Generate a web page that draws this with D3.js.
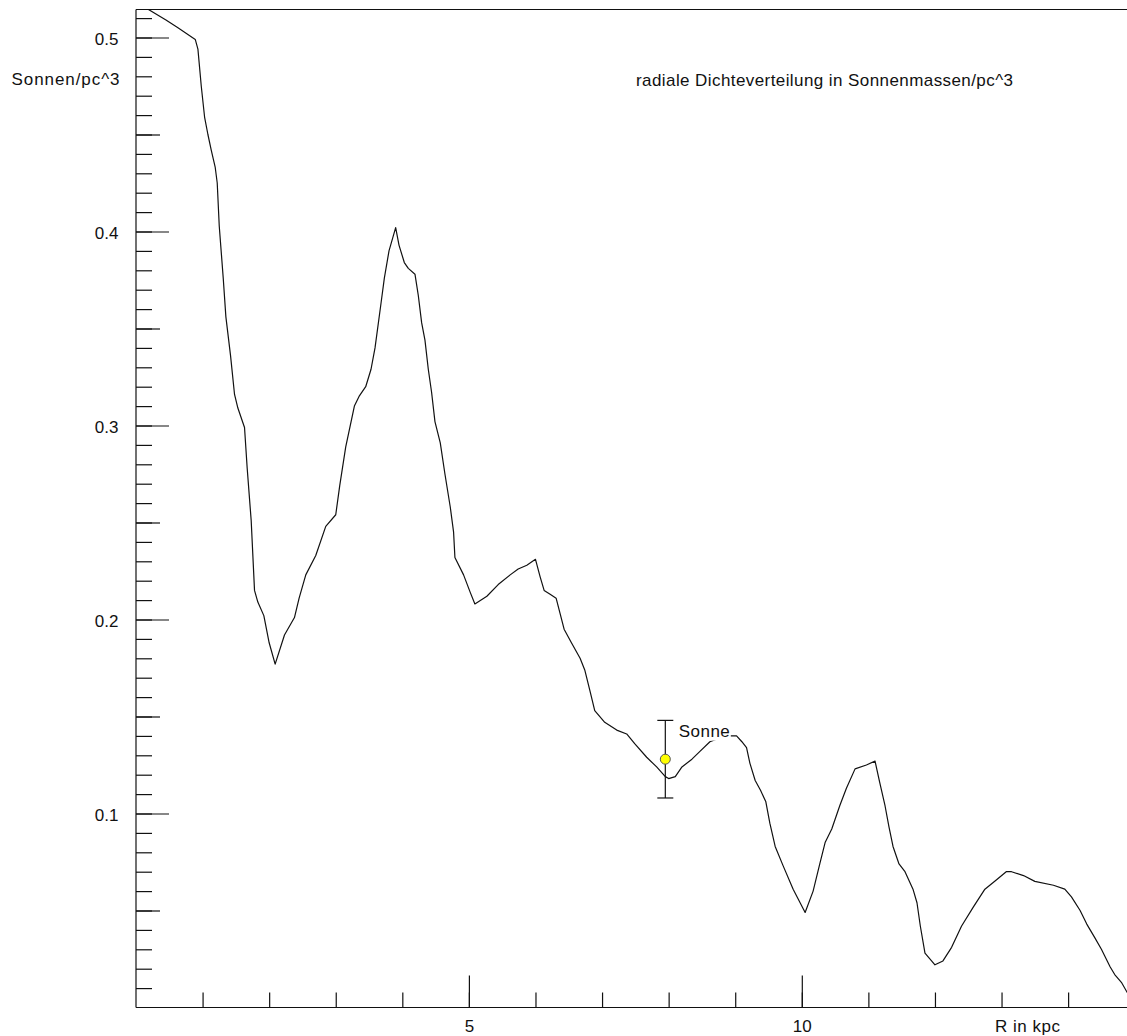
<!DOCTYPE html>
<html>
<head>
<meta charset="utf-8">
<script src="https://cdn.jsdelivr.net/npm/d3@7"></script>
<style>
  html, body { margin: 0; padding: 0; background: #fff; }
  svg { display: block; }
  text { font-family: "Liberation Sans", Arial, sans-serif; fill: #111; }
</style>
</head>
<body>
<svg id="chart" width="1127" height="1036"></svg>
<script>
// Radial density profile of the Milky Way disc (solar masses per cubic parsec)
const radiusKpc = [
  0.16, 0.45, 0.63, 0.89, 0.93, 0.98, 1.03, 1.08, 1.13, 1.19, 1.22, 1.25, 1.31, 1.35, 1.42, 1.48,
  1.53, 1.63, 1.67, 1.73, 1.78, 1.83, 1.92, 2.00, 2.09, 2.23, 2.38, 2.45, 2.55, 2.70, 2.85, 3.00,
  3.06, 3.15, 3.28, 3.35, 3.45, 3.53, 3.59, 3.68, 3.73, 3.80, 3.90, 3.95, 4.03, 4.09, 4.19, 4.24,
  4.29, 4.34, 4.39, 4.44, 4.49, 4.57, 4.64, 4.72, 4.77, 4.79, 4.92, 5.02, 5.09, 5.27, 5.44, 5.62,
  5.74, 5.87, 6.00, 6.07, 6.13, 6.22, 6.31, 6.37, 6.43, 6.54, 6.67, 6.74, 6.82, 6.89, 7.04, 7.22,
  7.37, 7.49, 7.67, 7.82, 7.95, 8.00, 8.10, 8.20, 8.35, 8.47, 8.62, 8.77, 8.92, 9.02, 9.10, 9.17,
  9.22, 9.30, 9.38, 9.46, 9.52, 9.60, 9.72, 9.87, 10.05, 10.17, 10.27, 10.35, 10.45, 10.57, 10.67, 10.80,
  10.97, 11.10, 11.17, 11.25, 11.31, 11.37, 11.46, 11.55, 11.67, 11.73, 11.78, 11.85, 12.00, 12.12, 12.25, 12.40,
  12.58, 12.75, 12.93, 13.07, 13.15, 13.33, 13.50, 13.78, 13.95, 14.05, 14.18, 14.28, 14.40, 14.50, 14.63, 14.70,
  14.80, 14.90
];
const density = [
  0.515, 0.509, 0.505, 0.499, 0.494, 0.475, 0.459, 0.450, 0.442, 0.433, 0.425, 0.403, 0.376, 0.356, 0.336, 0.316,
  0.309, 0.299, 0.278, 0.251, 0.215, 0.209, 0.202, 0.188, 0.177, 0.192, 0.201, 0.211, 0.223, 0.233, 0.248, 0.254,
  0.269, 0.289, 0.310, 0.315, 0.320, 0.329, 0.340, 0.363, 0.376, 0.390, 0.402, 0.393, 0.384, 0.381, 0.378, 0.367,
  0.353, 0.344, 0.329, 0.317, 0.302, 0.291, 0.275, 0.258, 0.245, 0.232, 0.223, 0.214, 0.208, 0.212, 0.218, 0.223,
  0.226, 0.228, 0.231, 0.222, 0.215, 0.213, 0.211, 0.203, 0.195, 0.188, 0.180, 0.174, 0.163, 0.153, 0.147, 0.143,
  0.141, 0.136, 0.129, 0.124, 0.119, 0.118, 0.119, 0.124, 0.128, 0.132, 0.137, 0.139, 0.140, 0.140, 0.137, 0.134,
  0.126, 0.117, 0.112, 0.106, 0.095, 0.083, 0.073, 0.061, 0.049, 0.060, 0.074, 0.085, 0.092, 0.104, 0.113, 0.123,
  0.125, 0.127, 0.116, 0.104, 0.093, 0.083, 0.074, 0.070, 0.061, 0.054, 0.042, 0.028, 0.022, 0.024, 0.031, 0.042,
  0.052, 0.061, 0.066, 0.070, 0.070, 0.068, 0.065, 0.063, 0.061, 0.057, 0.050, 0.043, 0.036, 0.030, 0.021, 0.017,
  0.013, 0.007
];

// Position of the Sun with its uncertainty
const sunLabel = ["Sonne"];
const sunRadius = [7.95];
const sunDensity = [0.128];
const sunError = [0.020];

// Axis ticks and labels
const xTickValues = d3.range(1, 16);
const xMajorValues = [5, 10, 15];
const xTickLabels = ["5", "10"];
const yMinorValues = d3.range(1, 52).map(i => i / 100);
const yMediumValues = [0.05, 0.15, 0.25, 0.35, 0.45];
const yMajorValues = [0.1, 0.2, 0.3, 0.4, 0.5];
const yTickLabels = ["0.1", "0.2", "0.3", "0.4", "0.5"];

const titleText = "radiale Dichteverteilung in Sonnenmassen/pc^3";
const yAxisTitle = "Sonnen/pc^3";
const xAxisTitle = "R in kpc";

const svg = d3.select("#chart");
const plotLeft = 136, plotTop = 9.5, plotBottom = 1007.5, plotRight = 1127;
const fontSize = 17;

const x = d3.scaleLinear().domain([0, 15]).range([plotLeft, plotLeft + 66.58 * 15]);
const y = d3.scaleLinear().domain([0, (plotBottom - plotTop) / 1940]).range([plotBottom, plotTop]);

// clip region for the curve
svg.append("defs").append("clipPath").attr("id", "plotClip")
  .append("rect").attr("x", plotLeft).attr("y", plotTop)
  .attr("width", plotRight - plotLeft).attr("height", plotBottom - plotTop);

// frame: top border
svg.append("line")
  .attr("x1", plotLeft).attr("x2", plotRight).attr("y1", plotTop).attr("y2", plotTop)
  .attr("stroke", "#111").attr("stroke-width", 1.2);

// y axis (ticks pointing inward)
function yTicks(values, size) {
  const g = svg.append("g").attr("transform", `translate(${plotLeft},0)`)
    .call(d3.axisRight(y).tickValues(values).tickSize(size).tickFormat(""));
  g.select(".domain").remove();
  g.selectAll(".tick line").attr("stroke", "#111").attr("stroke-width", 1.2);
  return g;
}
yTicks(yMinorValues, 16);
yTicks(yMediumValues, 24);
yTicks(yMajorValues, 33);

const yLab = svg.append("g").attr("transform", `translate(${plotLeft},0)`)
  .call(d3.axisLeft(y).tickValues(yMajorValues).tickSize(0).tickPadding(17.5)
    .tickFormat((d, i) => yTickLabels[i]));
yLab.select(".domain").remove();
yLab.selectAll("text").attr("font-size", fontSize).attr("dy", null).attr("y", 7)
  .style("font-family", "'Liberation Sans', Arial, sans-serif").attr("fill", "#111");

// x axis (ticks pointing upward)
function xTicks(values, size) {
  const g = svg.append("g").attr("transform", `translate(0,${plotBottom})`)
    .call(d3.axisTop(x).tickValues(values).tickSize(size).tickFormat(""));
  g.select(".domain").remove();
  g.selectAll(".tick line").attr("stroke", "#111").attr("stroke-width", 1.2);
  return g;
}
xTicks(xTickValues, 15);
xTicks(xMajorValues, 32);

const xLab = svg.append("g").attr("transform", `translate(0,${plotBottom})`)
  .call(d3.axisBottom(x).tickValues([5, 10]).tickSize(0)
    .tickFormat((d, i) => xTickLabels[i]));
xLab.select(".domain").remove();
xLab.selectAll("text").attr("font-size", fontSize).attr("dy", null).attr("y", 24.5)
  .style("font-family", "'Liberation Sans', Arial, sans-serif").attr("fill", "#111");

// axis lines
svg.append("line").attr("x1", plotLeft).attr("x2", plotLeft).attr("y1", plotTop).attr("y2", plotBottom)
  .attr("stroke", "#111").attr("stroke-width", 1.2);
svg.append("line").attr("x1", plotLeft).attr("x2", plotRight).attr("y1", plotBottom).attr("y2", plotBottom)
  .attr("stroke", "#111").attr("stroke-width", 1.2);

// density curve
const pts = radiusKpc.map((r, i) => [r, density[i]]);
svg.append("path")
  .datum(pts)
  .attr("clip-path", "url(#plotClip)")
  .attr("fill", "none")
  .attr("stroke", "#111")
  .attr("stroke-width", 1.2)
  .attr("stroke-linejoin", "round")
  .attr("d", d3.line().x(d => x(d[0])).y(d => y(d[1])));

// Sun: error bar, marker and label
const sun = sunRadius.map((r, i) => ({ r, v: sunDensity[i], e: sunError[i], label: sunLabel[i] }));
const sg = svg.selectAll(".sun").data(sun).join("g").attr("class", "sun");
sg.append("line")
  .attr("x1", d => x(d.r)).attr("x2", d => x(d.r))
  .attr("y1", d => y(d.v + d.e)).attr("y2", d => y(d.v - d.e))
  .attr("stroke", "#111").attr("stroke-width", 1.2);
sg.append("line")
  .attr("x1", d => x(d.r) - 8).attr("x2", d => x(d.r) + 8)
  .attr("y1", d => y(d.v + d.e)).attr("y2", d => y(d.v + d.e))
  .attr("stroke", "#111").attr("stroke-width", 1.2);
sg.append("line")
  .attr("x1", d => x(d.r) - 8).attr("x2", d => x(d.r) + 8)
  .attr("y1", d => y(d.v - d.e)).attr("y2", d => y(d.v - d.e))
  .attr("stroke", "#111").attr("stroke-width", 1.2);
sg.append("circle")
  .attr("cx", d => x(d.r)).attr("cy", d => y(d.v)).attr("r", 5)
  .attr("fill", "#ffff00").attr("stroke", "#555").attr("stroke-width", 1);

sg.append("rect").attr("fill", "#fff");
const labelText = sg.append("text")
  .attr("x", d => x(d.r) + 13.5).attr("y", d => y(d.v) - 22.5)
  .attr("font-size", fontSize).attr("textLength", 51).attr("lengthAdjust", "spacing")
  .text(d => d.label);
labelText.each(function () {
  const b = this.getBBox();
  d3.select(this.parentNode).select("rect")
    .attr("x", b.x - 1).attr("y", b.y).attr("width", b.width + 2).attr("height", b.height);
});

// titles
svg.append("text").attr("x", 636).attr("y", 86).attr("font-size", fontSize)
  .attr("textLength", 377).attr("lengthAdjust", "spacing").text(titleText);
svg.append("text").attr("x", 11.5).attr("y", 84.5).attr("font-size", fontSize)
  .attr("textLength", 108).attr("lengthAdjust", "spacing").text(yAxisTitle);
svg.append("text").attr("x", x(12.9)).attr("y", plotBottom + 24.5).attr("font-size", fontSize)
  .attr("textLength", 65).attr("lengthAdjust", "spacing").text(xAxisTitle);
</script>
</body>
</html>
